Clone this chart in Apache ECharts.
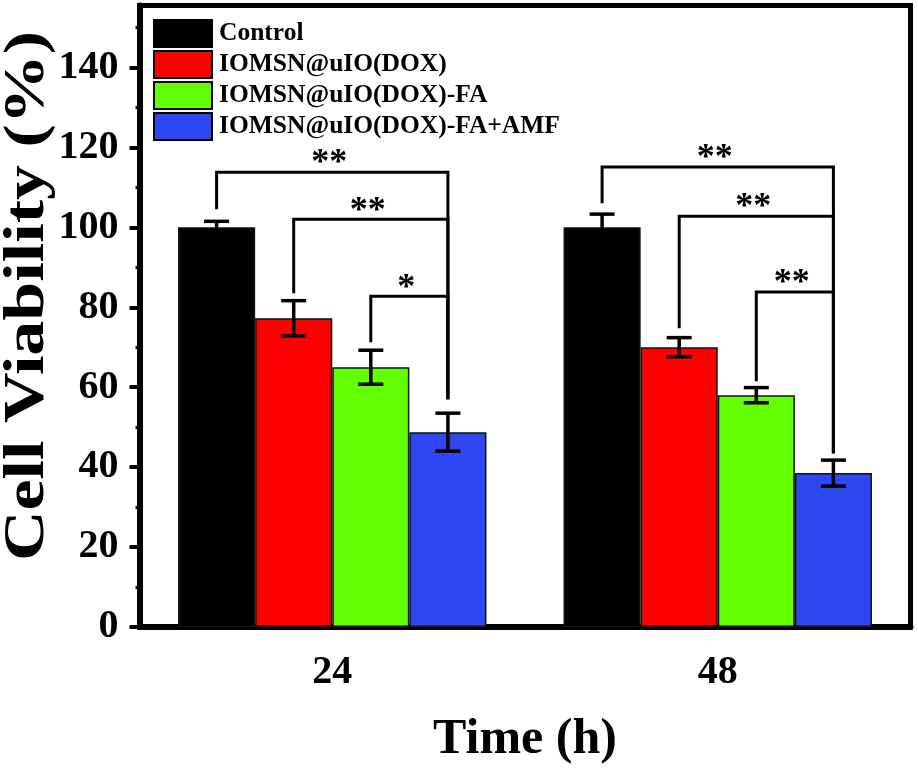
<!DOCTYPE html>
<html>
<head>
<meta charset="utf-8">
<script src="https://cdn.jsdelivr.net/npm/echarts@6/dist/echarts.min.js"></script>
<style>html,body{margin:0;padding:0;background:#fff;}#c{width:918px;height:769px;}</style>
</head>
<body>
<div id="c"></div>
<script>
const categories = ['24', '48'];
const seriesNames = ['Control', 'IOMSN@uIO(DOX)', 'IOMSN@uIO(DOX)-FA', 'IOMSN@uIO(DOX)-FA+AMF'];
const seriesColors = ['#000000', '#ff0000', '#62ff00', '#2d48f2'];
const control = [100, 100];
const dox = [77.25, 70];
const doxFA = [65, 58];
const doxFAAMF = [48.75, 38.5];
const controlErr = [1.5, 3.3];
const doxErr = [4.4, 2.4];
const doxFAErr = [4.25, 1.9];
const doxFAAMFErr = [4.75, 3.25];
const yTickValues = [0, 20, 40, 60, 80, 100, 120, 140];
const yMinorTickValues = [10, 30, 50, 70, 90, 110, 130, 150];
const yMax = 155.5;

// significance brackets
const bracketCat = [0, 0, 0, 1, 1, 1];
const bracketFrom = [0, 1, 2, 0, 1, 2];
const bracketTo = [3, 3, 3, 3, 3, 3];
const bracketLevel = [113.8, 102, 82.75, 115.1, 102.8, 83.8];
const bracketLegFrom = [104.5, 83.5, 71.25, 106, 74.75, 61.5];
const bracketLegTo = [57, 57, 57, 43.5, 43.5, 43.5];
const bracketLabel = ['**', '**', '*', '**', '**', '**'];

const values = [control, dox, doxFA, doxFAAMF];
const errs = [controlErr, doxErr, doxFAErr, doxFAAMFErr];

const FONT = '"Liberation Serif", "Times New Roman", serif';
const barCategoryGap = 0.2;

const errData = [];
values.forEach((vals, s) => vals.forEach((v, i) => errData.push([i, s, v, errs[s][i]])));
const bracketData = bracketCat.map((c, k) => [c, bracketFrom[k], bracketTo[k], bracketLevel[k], bracketLegFrom[k], bracketLegTo[k]]);

function barX(api, cat, idx) {
  const band = api.size([1, 0])[0];
  const bw = band * (1 - barCategoryGap) / 4;
  const c = api.coord([cat, 0]);
  return c[0] + (idx - 1.5) * bw;
}

function renderErr(params, api) {
  const cat = api.value(0), idx = api.value(1), v = api.value(2), e = api.value(3);
  const x = barX(api, cat, idx);
  const top = api.coord([cat, v + e])[1];
  const bot = api.coord([cat, v - e])[1];
  const cap = 12.5;
  const st = { stroke: '#000', lineWidth: 3.5 };
  return { type: 'group', children: [
    { type: 'line', shape: { x1: x, y1: top, x2: x, y2: bot }, style: st },
    { type: 'line', shape: { x1: x - cap, y1: top, x2: x + cap, y2: top }, style: st },
    { type: 'line', shape: { x1: x - cap, y1: bot, x2: x + cap, y2: bot }, style: st }
  ]};
}

function renderBracket(params, api) {
  const cat = api.value(0);
  const xa = barX(api, cat, api.value(1));
  const xb = barX(api, cat, api.value(2));
  const yl = api.coord([cat, api.value(3)])[1];
  const ya = api.coord([cat, api.value(4)])[1];
  const yb = api.coord([cat, api.value(5)])[1];
  return { type: 'group', children: [
    { type: 'polyline', shape: { points: [[xa, ya], [xa, yl], [xb, yl], [xb, yb]] },
      style: { stroke: '#000', lineWidth: 3, fill: null, lineJoin: 'miter' } },
    { type: 'text', x: (xa + xb) / 2 - 3, y: yl + 10,
      style: { text: bracketLabel[params.dataIndex], font: 'bold 36px ' + FONT, fill: '#000', align: 'center', verticalAlign: 'bottom' } }
  ]};
}

const chart = echarts.init(document.getElementById('c'));
const axisFont = { color: '#000', fontFamily: FONT, fontWeight: 'bold', fontSize: 40 };
chart.setOption({
  animation: false,
  backgroundColor: '#fff',
  grid: { left: 139.5, right: 7.5, top: 5.5, bottom: 142, show: true, borderColor: '#000', borderWidth: 5,
          backgroundColor: 'transparent', containLabel: false, outerBoundsMode: 'none' },
  legend: {
    data: seriesNames, orient: 'vertical', left: 153, top: 19, padding: 0,
    itemWidth: 58, itemHeight: 27, itemGap: 2, icon: 'rect',
    itemStyle: { borderColor: '#000', borderWidth: 2 },
    textStyle: { color: '#000', fontFamily: FONT, fontWeight: 'bold', fontSize: 25.5, lineHeight: 27, padding: [0, 0, 0, 2] }
  },
  graphic: [{
    type: 'text', x: 29, y: 296, rotation: Math.PI / 2, scaleX: 1.25,
    style: { text: 'Cell Viability (%)', font: 'bold 56px ' + FONT, fill: '#000', align: 'center', verticalAlign: 'middle' }
  }],
  xAxis: {
    type: 'category', data: categories,
    axisLine: { lineStyle: { color: '#000', width: 6 } },
    axisTick: { alignWithLabel: true, length: 10, lineStyle: { color: '#000', width: 5 } },
    axisLabel: Object.assign({ margin: 26 }, axisFont),
    name: 'Time (h)', nameLocation: 'middle', nameGap: 88,
    nameTextStyle: { color: '#000', fontFamily: FONT, fontWeight: 'bold', fontSize: 50 },
    splitLine: { show: false }
  },
  yAxis: [{
    type: 'value', min: 0, max: yMax, interval: 20,
    axisLine: { show: true, lineStyle: { color: '#000', width: 6 } },
    axisTick: { show: true, length: 10, customValues: yTickValues, lineStyle: { color: '#000', width: 4 } },
    axisLabel: Object.assign({ margin: 21, customValues: yTickValues }, axisFont),
    splitLine: { show: false }
  }, {
    type: 'value', min: 0, max: yMax, interval: 10, position: 'left',
    axisLine: { show: false },
    axisTick: { show: true, length: 4, customValues: yMinorTickValues, lineStyle: { color: '#000', width: 3 } },
    axisLabel: { show: false },
    splitLine: { show: false }
  }],
  series: seriesNames.map((n, s) => ({
    name: n, type: 'bar', data: values[s], yAxisIndex: 0,
    barGap: '0%', barCategoryGap: (barCategoryGap * 100) + '%',
    itemStyle: { color: seriesColors[s], borderColor: '#111', borderWidth: 1.5 },
    z: 2
  })).concat([
    { type: 'custom', name: 'err', data: errData, renderItem: renderErr, encode: { x: 0, y: 2 }, z: 5, silent: true },
    { type: 'custom', name: 'sig', data: bracketData, renderItem: renderBracket, encode: { x: 0, y: 3 }, z: 5, silent: true }
  ])
});
</script>
</body>
</html>
